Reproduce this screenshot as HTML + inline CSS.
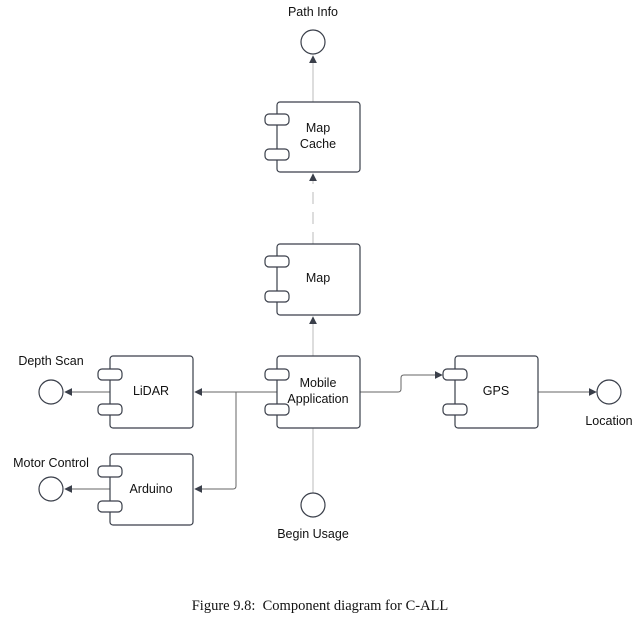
<!DOCTYPE html>
<html><head><meta charset="utf-8"><style>
html,body{margin:0;padding:0;background:#fff;width:639px;height:620px;overflow:hidden}
text{font-family:"Liberation Sans",sans-serif;font-size:12.5px;fill:#111}
</style></head><body>
<svg width="639" height="620" viewBox="0 0 639 620" xmlns="http://www.w3.org/2000/svg">
<defs>
<marker id="a" viewBox="0 0 10 10" refX="9" refY="5" markerWidth="8" markerHeight="8" orient="auto-start-reverse" markerUnits="userSpaceOnUse"><path d="M0,0 L10,5 L0,10 z" fill="#3a3f4a"/></marker>
</defs>
<g fill="none" stroke-width="1">
<line x1="313" y1="102" x2="313" y2="56" stroke="#bbb" marker-end="url(#a)"/>
<line x1="313" y1="244" x2="313" y2="174" stroke="#bbb" stroke-dasharray="12,8" marker-end="url(#a)"/>
<line x1="313" y1="356" x2="313" y2="317" stroke="#bbb" marker-end="url(#a)"/>
<line x1="313" y1="428" x2="313" y2="493" stroke="#bbb"/>
<line x1="277" y1="392" x2="195" y2="392" stroke="#666" marker-end="url(#a)"/>
<path d="M236,392 V486 Q236,489 233,489 H195" stroke="#666" marker-end="url(#a)"/>
<line x1="110" y1="392" x2="65" y2="392" stroke="#666" marker-end="url(#a)"/>
<line x1="110" y1="489" x2="65" y2="489" stroke="#666" marker-end="url(#a)"/>
<path d="M360,392 H398 Q401,392 401,389 V378 Q401,375 404,375 H442" stroke="#666" marker-end="url(#a)"/>
<line x1="538" y1="392" x2="596" y2="392" stroke="#666" marker-end="url(#a)"/>
</g>
<g fill="#fff" stroke="#3a3f4a" stroke-width="1.2">
<circle cx="313" cy="42" r="12"/>
<circle cx="313" cy="505" r="12"/>
<circle cx="51" cy="392" r="12"/>
<circle cx="51" cy="489" r="12"/>
<circle cx="609" cy="392" r="12"/>
<rect x="277" y="102" width="83" height="70" rx="3"/>
<rect x="265" y="114" width="24" height="11" rx="4"/><rect x="265" y="149" width="24" height="11" rx="4"/>
<rect x="277" y="244" width="83" height="71" rx="3"/>
<rect x="265" y="256" width="24" height="11" rx="4"/><rect x="265" y="291" width="24" height="11" rx="4"/>
<rect x="277" y="356" width="83" height="72" rx="3"/>
<rect x="265" y="369" width="24" height="11" rx="4"/><rect x="265" y="404" width="24" height="11" rx="4"/>
<rect x="110" y="356" width="83" height="72" rx="3"/>
<rect x="98" y="369" width="24" height="11" rx="4"/><rect x="98" y="404" width="24" height="11" rx="4"/>
<rect x="110" y="454" width="83" height="71" rx="3"/>
<rect x="98" y="466" width="24" height="11" rx="4"/><rect x="98" y="501" width="24" height="11" rx="4"/>
<rect x="455" y="356" width="83" height="72" rx="3"/>
<rect x="443" y="369" width="24" height="11" rx="4"/><rect x="443" y="404" width="24" height="11" rx="4"/>
</g>
<text x="313" y="16" text-anchor="middle">Path Info</text>
<text x="318" y="132" text-anchor="middle">Map</text>
<text x="318" y="148" text-anchor="middle">Cache</text>
<text x="318" y="282" text-anchor="middle">Map</text>
<text x="318" y="387" text-anchor="middle">Mobile</text>
<text x="318" y="403" text-anchor="middle">Application</text>
<text x="151" y="395" text-anchor="middle">LiDAR</text>
<text x="151" y="493" text-anchor="middle">Arduino</text>
<text x="496" y="395" text-anchor="middle">GPS</text>
<text x="51" y="365" text-anchor="middle">Depth Scan</text>
<text x="51" y="467" text-anchor="middle">Motor Control</text>
<text x="313" y="538" text-anchor="middle">Begin Usage</text>
<text x="609" y="425" text-anchor="middle">Location</text>
<text x="320" y="610" text-anchor="middle" style="font-family:'Liberation Serif',serif;font-size:14.5px;white-space:pre">Figure 9.8:  Component diagram for C-ALL</text>
</svg>
</body></html>
